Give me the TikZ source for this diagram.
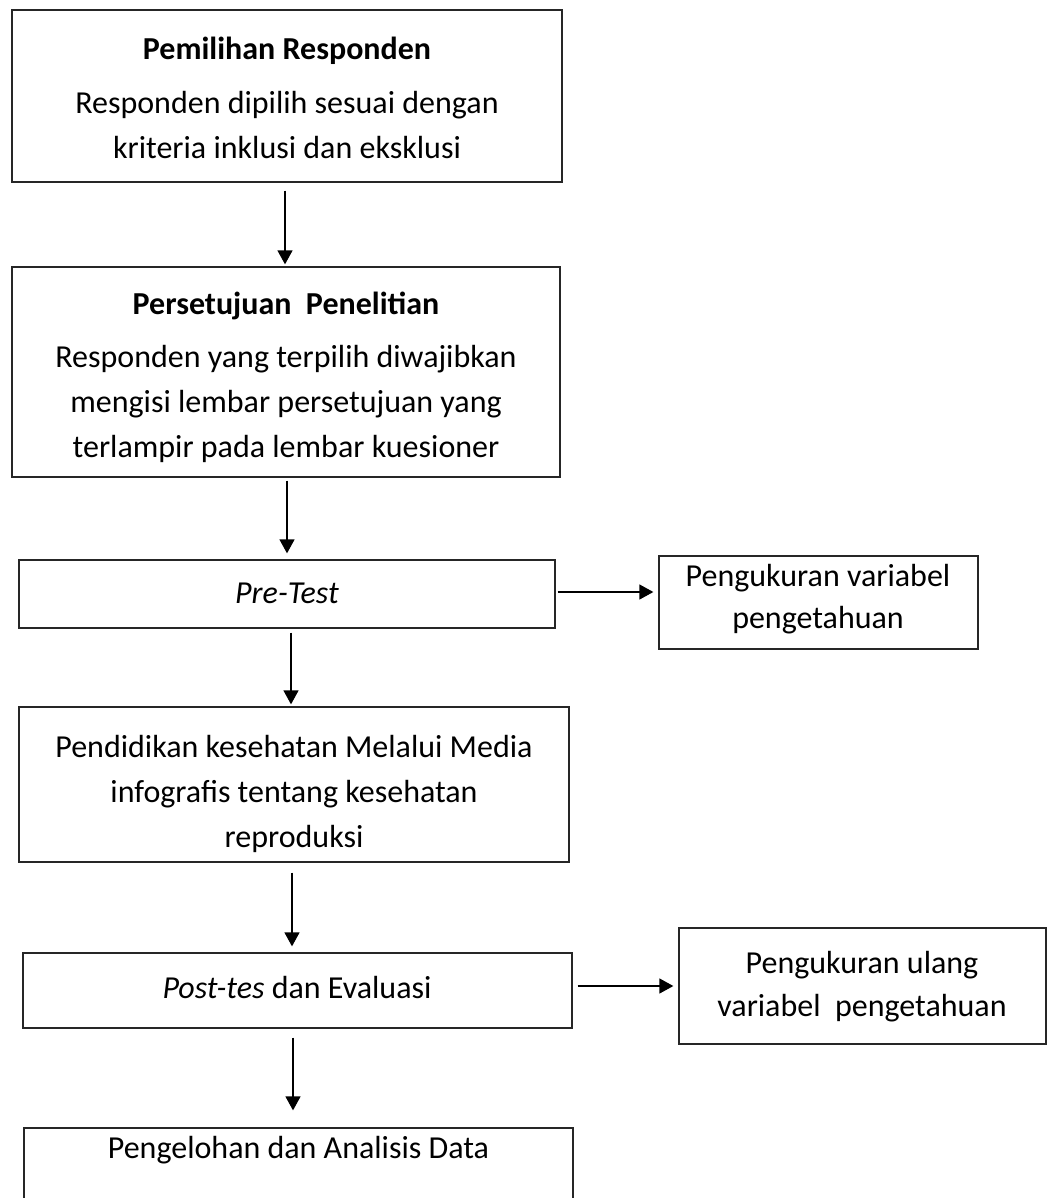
\documentclass[tikz,border=0pt]{standalone}
\usepackage{fontspec}
\setmainfont{Carlito}
\usetikzlibrary{arrows.meta}
\pgfdeclarelayer{edgelayer}
\pgfdeclarelayer{nodelayer}
\pgfsetlayers{edgelayer,nodelayer,main}
\tikzset{font=\fontsize{32}{45}\selectfont}
\tikzstyle{none}=[inner sep=0pt, align=center]
\tikzstyle{box}=[draw=black!85, line width=1.3pt, inner sep=0pt]
\tikzstyle{arrow}=[line width=1.4pt, -{Triangle[length=14pt,width=15pt]}]

\begin{document}
\begin{tikzpicture}[x=1pt, y=-1pt]
	\useasboundingbox (0,0) rectangle (1048,1198);
	\begin{pgfonlayer}{nodelayer}
		\node [style=box, minimum width=550pt, minimum height=172pt] (0) at (287, 96) {};
		\node [style=box, minimum width=548pt, minimum height=210pt] (1) at (286, 372) {};
		\node [style=box, minimum width=536pt, minimum height=68pt] (2) at (287, 594) {};
		\node [style=box, minimum width=319pt, minimum height=93pt] (3) at (818.5, 602.5) {};
		\node [style=box, minimum width=550pt, minimum height=155pt] (4) at (294, 784.5) {};
		\node [style=box, minimum width=549pt, minimum height=75pt] (5) at (297.5, 990.5) {};
		\node [style=box, minimum width=367pt, minimum height=116pt] (6) at (862.5, 986) {};
		\node [style=box, minimum width=549pt, minimum height=104pt] (7) at (298.5, 1180) {};
		\node [style=none] (t0) at (287, 51) {\textbf{Pemilihan Responden}};
		\node [style=none] (t1) at (287, 125) {Responden dipilih sesuai dengan\\kriteria inklusi dan eksklusi};
		\node [style=none] (t2) at (286, 306) {\textbf{Persetujuan\ \ Penelitian}};
		\node [style=none] (t3) at (286, 404) {Responden yang terpilih diwajibkan\\mengisi lembar persetujuan yang\\terlampir pada lembar kuesioner};
		\node [style=none] (t4) at (287, 593) {\textit{Pre-Test}};
		\node [style=none] (t5) at (818, 599) {Pengukuran variabel\\[-3pt]pengetahuan};
		\node [style=none] (t6) at (294, 793.5) {Pendidikan kesehatan Melalui Media\\infografis tentang kesehatan\\reproduksi};
		\node [style=none] (t7) at (297, 987) {\textit{Post-tes} dan Evaluasi};
		\node [style=none] (t8) at (862, 987) {Pengukuran ulang\\[-2pt]variabel\ \ pengetahuan};
		\node [style=none] (t9) at (298.5, 1150) {Pengelohan dan Analisis Data};
	\end{pgfonlayer}
	\begin{pgfonlayer}{edgelayer}
		\draw [style=arrow, shorten <=8pt, shorten >=2pt] ([xshift=-2pt]0.south) to ([xshift=-2pt]0.south |- 1.north);
		\draw [style=arrow, shorten <=3pt, shorten >=6pt] ([xshift=1pt]1.south) to ([xshift=1pt]1.south |- 2.north);
		\draw [style=arrow, shorten <=2pt, shorten >=5pt] ([yshift=2pt]2.east) to ([yshift=2pt]2.east -| 3.west);
		\draw [style=arrow, shorten <=4pt, shorten >=2pt] ([xshift=4pt]2.south) to ([xshift=4pt]2.south |- 4.north);
		\draw [style=arrow, shorten <=10pt, shorten >=6pt] ([xshift=-2pt]4.south) to ([xshift=-2pt]4.south |- 5.north);
		\draw [style=arrow, shorten <=5pt, shorten >=5pt] ([yshift=4.5pt]5.east) to ([yshift=4.5pt]5.east -| 6.west);
		\draw [style=arrow, shorten <=9pt, shorten >=17pt] ([xshift=-4.5pt]5.south) to ([xshift=-4.5pt]5.south |- 7.north);
	\end{pgfonlayer}
\end{tikzpicture}
\end{document}
